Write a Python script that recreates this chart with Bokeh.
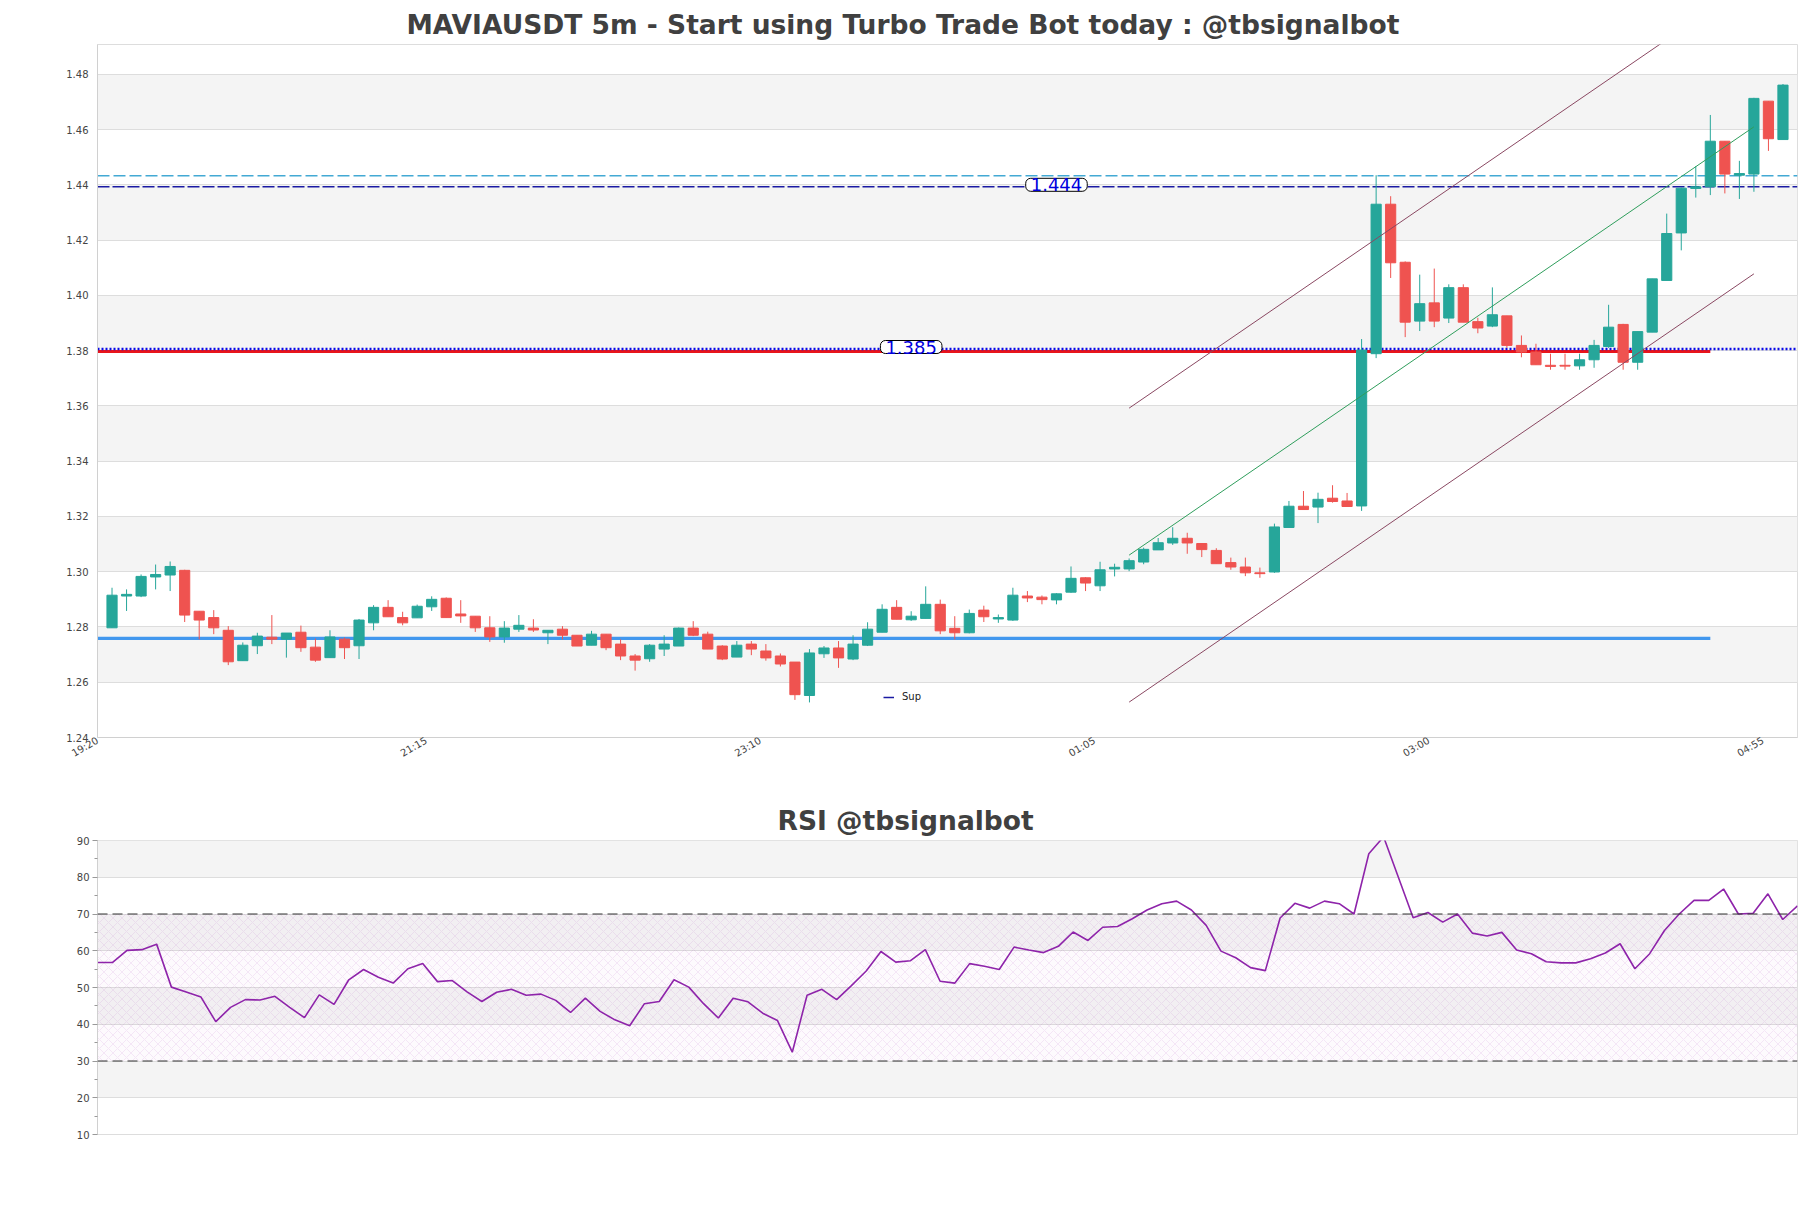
import math
from bokeh.plotting import figure
from bokeh.models import (ColumnDataSource, FixedTicker, Span, Label, Arrow, Legend, LegendItem,
                          Range1d, NumeralTickFormatter, BoxAnnotation)
from bokeh.layouts import column
from bokeh.embed import file_html
from bokeh.resources import INLINE

# ---------------- data (5m candles, 19:25 .. 05:00) ----------------
OPEN = [1.2797, 1.2912, 1.2912, 1.2981, 1.2988, 1.3005, 1.2857, 1.2834, 1.2788, 1.2678,
        1.2732, 1.2763, 1.2756, 1.2781, 1.2727, 1.2689, 1.2756, 1.2732, 1.2815, 1.2871,
        1.2834, 1.2833, 1.2873, 1.2904, 1.2847, 1.2839, 1.2797, 1.2764, 1.2792, 1.2796,
        1.2779, 1.2792, 1.2770, 1.2734, 1.2774, 1.2738, 1.2695, 1.2685, 1.2720, 1.2731,
        1.2796, 1.2774, 1.2731, 1.2691, 1.2738, 1.2713, 1.2695, 1.2673, 1.2552, 1.2703,
        1.2724, 1.2684, 1.2734, 1.2781, 1.2871, 1.2826, 1.2831, 1.2882, 1.2795, 1.2779,
        1.2861, 1.2829, 1.2825, 1.2912, 1.2908, 1.2898, 1.2926, 1.2978, 1.2949, 1.3010,
        1.3010, 1.3035, 1.3079, 1.3104, 1.3121, 1.3102, 1.3077, 1.3033, 1.3017, 1.2996,
        1.2999, 1.3160, 1.3237, 1.3234, 1.3266, 1.3256, 1.3238, 1.3789, 1.4330, 1.4120,
        1.3907, 1.3973, 1.3918, 1.4028, 1.3905, 1.3889, 1.3926, 1.3819, 1.3795, 1.3747,
        1.3747, 1.3745, 1.3767, 1.3815, 1.3895, 1.3758, 1.3867, 1.4054, 1.4226, 1.4387,
        1.4393, 1.4558, 1.4435, 1.4439, 1.4703, 1.4564]
HIGH = [1.2942, 1.2936, 1.2990, 1.3026, 1.3037, 1.3007, 1.2857, 1.2861, 1.2803, 1.2744,
        1.2779, 1.2843, 1.2778, 1.2805, 1.2758, 1.2788, 1.2762, 1.2829, 1.2879, 1.2897,
        1.2855, 1.2881, 1.2911, 1.2907, 1.2897, 1.2839, 1.2839, 1.2821, 1.2843, 1.2828,
        1.2788, 1.2803, 1.2770, 1.2786, 1.2774, 1.2755, 1.2702, 1.2738, 1.2770, 1.2798,
        1.2821, 1.2783, 1.2734, 1.2749, 1.2749, 1.2738, 1.2704, 1.2673, 1.2720, 1.2731,
        1.2749, 1.2770, 1.2817, 1.2882, 1.2897, 1.2857, 1.2947, 1.2899, 1.2839, 1.2863,
        1.2877, 1.2845, 1.2942, 1.2930, 1.2914, 1.2922, 1.3019, 1.2980, 1.3036, 1.3029,
        1.3048, 1.3087, 1.3122, 1.3161, 1.3141, 1.3102, 1.3085, 1.3051, 1.3051, 1.3015,
        1.3174, 1.3256, 1.3292, 1.3286, 1.3313, 1.3285, 1.3842, 1.4435, 1.4359, 1.4123,
        1.4075, 1.4097, 1.4040, 1.4040, 1.3919, 1.4029, 1.3926, 1.3855, 1.3825, 1.3789,
        1.3789, 1.3789, 1.3839, 1.3966, 1.3897, 1.3869, 1.4060, 1.4296, 1.4390, 1.4468,
        1.4653, 1.4558, 1.4487, 1.4715, 1.4703, 1.4765]
LOW = [1.2797, 1.2858, 1.2908, 1.2936, 1.2930, 1.2818, 1.2755, 1.2774, 1.2662, 1.2678,
       1.2702, 1.2738, 1.2689, 1.2710, 1.2674, 1.2689, 1.2684, 1.2684, 1.2788, 1.2837,
       1.2806, 1.2833, 1.2858, 1.2834, 1.2815, 1.2782, 1.2746, 1.2743, 1.2782, 1.2782,
       1.2738, 1.2755, 1.2731, 1.2734, 1.2716, 1.2680, 1.2642, 1.2674, 1.2695, 1.2731,
       1.2767, 1.2720, 1.2680, 1.2691, 1.2698, 1.2678, 1.2657, 1.2536, 1.2527, 1.2688,
       1.2652, 1.2680, 1.2731, 1.2781, 1.2828, 1.2822, 1.2831, 1.2774, 1.2755, 1.2777,
       1.2818, 1.2815, 1.2822, 1.2890, 1.2882, 1.2882, 1.2924, 1.2930, 1.2930, 1.2983,
       1.3002, 1.3027, 1.3079, 1.3097, 1.3065, 1.3053, 1.3029, 1.3007, 1.2984, 1.2978,
       1.2996, 1.3160, 1.3225, 1.3176, 1.3250, 1.3236, 1.3220, 1.3773, 1.4063, 1.3849,
       1.3871, 1.3885, 1.3900, 1.3903, 1.3863, 1.3885, 1.3810, 1.3776, 1.3749, 1.3731,
       1.3731, 1.3731, 1.3738, 1.3810, 1.3731, 1.3731, 1.3867, 1.4054, 1.4163, 1.4354,
       1.4363, 1.4369, 1.4349, 1.4375, 1.4523, 1.4564]
CLOSE = [1.2915, 1.2918, 1.2983, 1.2990, 1.3019, 1.2843, 1.2825, 1.2797, 1.2674, 1.2734,
         1.2767, 1.2756, 1.2778, 1.2725, 1.2680, 1.2764, 1.2725, 1.2825, 1.2871, 1.2837,
         1.2815, 1.2875, 1.2900, 1.2834, 1.2840, 1.2797, 1.2764, 1.2796, 1.2806, 1.2789,
         1.2788, 1.2770, 1.2731, 1.2774, 1.2725, 1.2695, 1.2680, 1.2734, 1.2738, 1.2796,
         1.2770, 1.2720, 1.2684, 1.2734, 1.2720, 1.2688, 1.2666, 1.2555, 1.2706, 1.2724,
         1.2688, 1.2738, 1.2792, 1.2864, 1.2828, 1.2839, 1.2882, 1.2786, 1.2779, 1.2849,
         1.2837, 1.2834, 1.2915, 1.2905, 1.2899, 1.2920, 1.2976, 1.2959, 1.3007, 1.3016,
         1.3040, 1.3081, 1.3105, 1.3121, 1.3104, 1.3080, 1.3029, 1.3017, 1.2996, 1.2993,
         1.3162, 1.3237, 1.3225, 1.3262, 1.3254, 1.3236, 1.3802, 1.4330, 1.4118, 1.3903,
         1.3970, 1.3907, 1.4028, 1.3903, 1.3882, 1.3930, 1.3819, 1.3795, 1.3749, 1.3743,
         1.3744, 1.3767, 1.3819, 1.3885, 1.3758, 1.3869, 1.4060, 1.4224, 1.4388, 1.4393,
         1.4558, 1.4439, 1.4441, 1.4713, 1.4567, 1.4761]
RSI = [56.8, 56.8, 60.1, 60.3, 61.8, 50.1, 48.8, 47.4, 40.7, 44.6,
       46.7, 46.6, 47.6, 44.6, 41.8, 48.0, 45.4, 52.1, 54.9, 52.8,
       51.2, 55.1, 56.5, 51.6, 51.9, 48.8, 46.2, 48.7, 49.5, 47.9,
       48.2, 46.5, 43.2, 47.1, 43.5, 41.2, 39.6, 45.6, 46.2, 52.1,
       50.1, 45.6, 41.7, 47.1, 46.1, 43.0, 41.0, 32.4, 47.9, 49.5,
       46.7, 50.5, 54.5, 59.8, 56.9, 57.3, 60.3, 51.7, 51.2, 56.5,
       55.8, 54.9, 61.0, 60.2, 59.5, 61.2, 65.1, 62.8, 66.4, 66.6,
       68.7, 71.1, 72.8, 73.5, 71.1, 66.9, 59.9, 58.1, 55.4, 54.6,
       68.9, 72.9, 71.6, 73.5, 72.8, 70.0, 86.4, 91.0, 80.0, 69.0,
       70.4, 67.8, 70.0, 64.8, 64.0, 65.0, 60.2, 59.2, 57.0, 56.7,
       56.7, 57.8, 59.4, 61.9, 55.1, 59.2, 65.5, 70.0, 73.7, 73.7,
       76.8, 70.0, 70.2, 75.5, 68.5, 72.2]

TICK_LABELS = ["19:20", "21:15", "23:10", "01:05", "03:00", "04:55"]
TICK_EVERY = 23                     # bars between time labels
LABEL_NUDGE = -0.38                 # rotated labels end just left of their tick
Y_TICKS = [1.24, 1.26, 1.28, 1.30, 1.32, 1.34, 1.36, 1.38, 1.40, 1.42, 1.44, 1.46, 1.48]
Y_RANGE = (1.24, 1.4908)
RSI_TICKS = [10, 20, 30, 40, 50, 60, 70, 80, 90]
RSI_MINOR = [15, 25, 35, 45, 55, 65, 75, 85]
RSI_LEVELS = [30, 70]

# horizontal levels
RES_CYAN = 1.4433
RES_NAVY = 1.4393
PIVOT_DOT = 1.3806
RED_LEVEL = 1.3797
SUP_BLUE = 1.2759
LEVEL_SPAN = (-7, 111)              # bar index start/end of the thick level lines
LABELS = [("1.444", 66, RES_NAVY), ("1.385", 56, PIVOT_DOT)]

# regression channel (bar index, price)
CH_X = [71, 114]
CH_UPPER = [1.3592, 1.5142]
CH_MID = [1.3060, 1.4610]
CH_LOWER = [1.2528, 1.4078]

TITLE = "MAVIAUSDT 5m - Start using Turbo Trade Bot today : @tbsignalbot"
RSI_TITLE = "RSI @tbsignalbot"

# ---------------- styling ----------------
GREEN = "#26a69a"
RED = "#ef5350"
FONT = "DejaVu Sans"
BAND = "#f4f4f4"
GRID = "#dddddd"
W = 1803

N = len(CLOSE)
X_RANGE = (0, N + 1)
idx = list(range(1, N + 1))
colors = [GREEN if c >= o else RED for o, c in zip(OPEN, CLOSE)]
src = ColumnDataSource(dict(
    x=idx, high=HIGH, low=LOW,
    top=[max(o, c) for o, c in zip(OPEN, CLOSE)],
    bottom=[min(o, c) for o, c in zip(OPEN, CLOSE)],
    color=colors))


def style_title(fig, text, offset):
    fig.title.text = text
    fig.title.align = "left"
    fig.title.offset = offset
    fig.title.text_font = FONT
    fig.title.text_font_style = "bold"
    fig.title.text_font_size = "26.5px"
    fig.title.text_color = "#404040"
    fig.title.standoff = 10


p = figure(width=W, height=778, x_range=Range1d(*X_RANGE), y_range=Range1d(*Y_RANGE),
           output_backend="svg", toolbar_location=None,
           min_border_left=97, min_border_right=6, min_border_top=44, min_border_bottom=41)
p.background_fill_color = "white"
p.outline_line_color = GRID
style_title(p, TITLE, 309)

# grid with alternating bands
yt = FixedTicker(ticks=Y_TICKS)
p.yaxis.ticker = yt
p.ygrid.ticker = yt
p.ygrid.grid_line_color = GRID
p.ygrid.band_fill_color = BAND
p.ygrid.band_fill_alpha = 1.0
p.xgrid.visible = False

# axes
xpos = [max(X_RANGE[0], i * TICK_EVERY + LABEL_NUDGE) for i in range(len(TICK_LABELS))]
p.xaxis.ticker = FixedTicker(ticks=xpos)
p.xaxis.major_label_overrides = {x: lab for x, lab in zip(xpos, TICK_LABELS)}
p.xaxis.major_label_orientation = math.pi / 6
for ax in (p.xaxis, p.yaxis):
    ax.major_tick_out = 0
    ax.major_tick_in = 0
    ax.minor_tick_out = 0
    ax.minor_tick_in = 0
    ax.axis_line_color = "#d0d0d0"
    ax.major_label_text_font = FONT
    ax.major_label_text_font_size = "10px"
    ax.major_label_text_color = "#444444"
p.xaxis.major_label_standoff = 2
p.yaxis.major_label_standoff = 9
p.yaxis.formatter = NumeralTickFormatter(format="0.00")

# level lines (under the candles)
p.add_layout(Span(location=RES_CYAN, dimension="width", line_color="#43a9d4", line_dash="12 4",
                  line_width=1.3, level="underlay"))
navy = p.line(x=list(X_RANGE), y=[RES_NAVY, RES_NAVY], line_color="#1a1aa3",
              line_dash="12 3", line_width=1.5)

for lvl, col, lw in [(RED_LEVEL, "#e8141b", 3.2), (SUP_BLUE, "#4197ee", 3.2)]:
    p.add_layout(Arrow(end=None, x_start=LEVEL_SPAN[0], y_start=lvl, x_end=LEVEL_SPAN[1], y_end=lvl,
                       line_color=col, line_width=lw, level="underlay"))
p.add_layout(Span(location=PIVOT_DOT, dimension="width", line_color="#0a0ae6", line_dash="2 2",
                  line_width=2.4, level="underlay"))

# channel lines
for ys, col in [(CH_UPPER, "#8a4862"), (CH_MID, "#2f9e5c"), (CH_LOWER, "#8a4862")]:
    p.add_layout(Arrow(end=None, x_start=CH_X[0], y_start=ys[0], x_end=CH_X[1], y_end=ys[1],
                       line_color=col, line_width=1))

# candles
p.segment(x0="x", y0="high", x1="x", y1="low", source=src, line_color="color", line_width=1)
p.vbar(x="x", width=0.7, top="top", bottom="bottom", source=src,
       fill_color="color", line_color="color", line_width=1)

# price labels
for txt, xi, yv in LABELS:
    lb = Label(x=xi, y=yv, text=txt, text_align="center", text_baseline="middle", y_offset=2,
               text_font=FONT, text_font_size="18px", text_color="#0000dd",
               background_fill_color="white", border_line_color="black", border_line_width=1)
    try:
        lb.border_radius = 5
    except Exception:
        pass
    try:
        lb.padding = dict(left=5, right=5, top=0, bottom=0)
    except Exception:
        try:
            lb.padding = 2
        except Exception:
            pass
    p.add_layout(lb)

# legend
leg = Legend(items=[LegendItem(label="Sup", renderers=[navy])], location=(786, 35),
             glyph_width=11, glyph_height=10, label_standoff=8, padding=0, margin=0,
             border_line_alpha=0, background_fill_alpha=0,
             label_text_font=FONT, label_text_font_size="10px", label_text_color="#222222")
p.add_layout(leg, "center")

# ---------------- RSI panel ----------------
r = figure(width=W, height=400, x_range=Range1d(1, N), y_range=Range1d(10, 90),
           output_backend="svg", toolbar_location=None,
           min_border_left=97, min_border_right=6, min_border_top=62, min_border_bottom=44)
r.outline_line_color = GRID
style_title(r, RSI_TITLE, 680)
rt = FixedTicker(ticks=RSI_TICKS, minor_ticks=RSI_MINOR)
r.yaxis.ticker = rt
r.ygrid.ticker = rt
r.ygrid.grid_line_color = GRID
r.ygrid.band_fill_color = BAND
r.ygrid.band_fill_alpha = 1.0
r.xgrid.visible = False
r.xaxis.visible = False
r.yaxis.axis_line_color = "#d0d0d0"
r.yaxis.major_tick_out = 5
r.yaxis.major_tick_in = 0
r.yaxis.minor_tick_out = 3
r.yaxis.minor_tick_in = 0
r.yaxis.major_tick_line_color = "#999999"
r.yaxis.minor_tick_line_color = "#999999"
r.yaxis.major_label_standoff = 3
r.yaxis.major_label_text_font = FONT
r.yaxis.major_label_text_font_size = "10px"
r.yaxis.major_label_text_color = "#444444"

r.add_layout(BoxAnnotation(bottom=RSI_LEVELS[0], top=RSI_LEVELS[1], fill_color="#9c27b0",
                           fill_alpha=0.025, line_alpha=0, hatch_pattern="diagonal_cross",
                           hatch_color="#9c27b0", hatch_alpha=0.16, hatch_scale=9,
                           hatch_weight=0.6, level="underlay"))
for lv in RSI_LEVELS:
    r.add_layout(Span(location=lv, dimension="width", line_color="#333333",
                      line_dash="10 5", line_width=1.2))
r.line(x=idx, y=RSI, line_color="#8e24aa", line_width=1.6)

layout = column(p, r)
open("out.html", "w").write(file_html(layout, INLINE))
